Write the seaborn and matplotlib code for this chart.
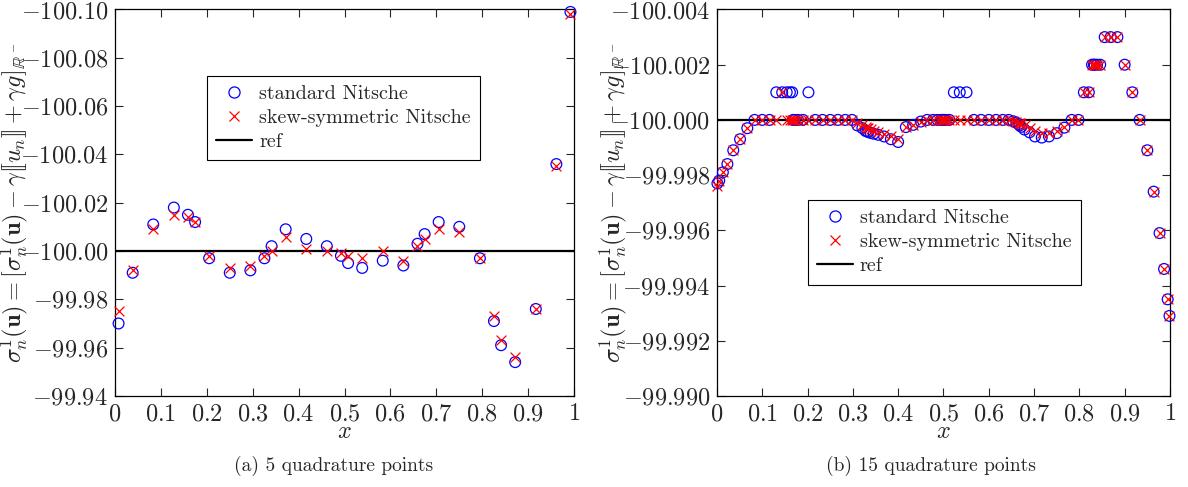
"""
Nitsche contact traction comparison at quadrature points.
Two panels: 5 and 15 quadrature points per element.
"""

import numpy as np
import matplotlib
matplotlib.use('Agg')
import matplotlib.pyplot as plt
from matplotlib.ticker import FixedLocator, FuncFormatter
from matplotlib.lines import Line2D
import seaborn as sns

# ---- data: 5 quadrature points ----
x5 = [0.0078, 0.0385, 0.0833, 0.1282, 0.1589,
      0.1745, 0.2051, 0.2500, 0.2949, 0.3255,
      0.3411, 0.3718, 0.4167, 0.4615, 0.4922,
      0.5078, 0.5385, 0.5833, 0.6282, 0.6589,
      0.6745, 0.7051, 0.7500, 0.7949, 0.8255,
      0.8411, 0.8718, 0.9167, 0.9615, 0.9922]
standard5 = [-99.970, -99.991, -100.011, -100.018, -100.015,
             -100.012, -99.997, -99.991, -99.992, -99.997,
             -100.002, -100.009, -100.005, -100.002, -99.998,
             -99.995, -99.993, -99.996, -99.994, -100.003,
             -100.007, -100.012, -100.010, -99.997, -99.971,
             -99.961, -99.954, -99.976, -100.036, -100.099]
skew5 = [-99.975, -99.992, -100.009, -100.015, -100.014,
         -100.012, -99.998, -99.993, -99.994, -99.998,
         -100.000, -100.006, -100.001, -100.000, -99.999,
         -99.998, -99.997, -100.000, -99.996, -100.002,
         -100.005, -100.009, -100.008, -99.997, -99.973,
         -99.963, -99.956, -99.976, -100.035, -100.098]

# ---- data: 15 quadrature points ----
x15 = [0.001, 0.005, 0.013, 0.023, 0.036, 0.051, 0.067, 0.083, 0.100, 0.116, 0.131, 0.144, 0.154, 0.161, 0.166,
       0.168, 0.172, 0.179, 0.190, 0.202, 0.217, 0.233, 0.250, 0.267, 0.283, 0.298, 0.310, 0.321, 0.328, 0.332,
       0.334, 0.339, 0.346, 0.356, 0.369, 0.384, 0.400, 0.417, 0.433, 0.450, 0.464, 0.477, 0.487, 0.495, 0.499,
       0.501, 0.505, 0.513, 0.523, 0.536, 0.551, 0.567, 0.583, 0.600, 0.616, 0.631, 0.644, 0.654, 0.661, 0.666,
       0.668, 0.672, 0.679, 0.690, 0.702, 0.717, 0.733, 0.750, 0.767, 0.783, 0.798, 0.810, 0.821, 0.828, 0.832,
       0.834, 0.839, 0.846, 0.856, 0.869, 0.884, 0.900, 0.917, 0.933, 0.950, 0.964, 0.977, 0.987, 0.995, 0.999]
standard15 = [
    -99.9977, -99.9978, -99.9981, -99.9984, -99.9989, -99.9993, -99.9997, -100.000, -100.000, -100.000,
    -100.001, -100.001, -100.001, -100.001, -100.001,
    -100.000, -100.000, -100.000, -100.000, -100.001, -100.000, -100.000, -100.000, -100.000, -100.000,
    -100.000, -99.9998, -99.9997, -99.9996, -99.99958,
    -99.99956, -99.99953, -99.9995, -99.99946, -99.9994, -99.9993, -99.9992, -99.99974, -99.99982, -99.99994,
    -100.000, -100.000, -100.000, -100.000, -100.000,
    -100.000, -100.000, -100.000, -100.001, -100.001, -100.001, -100.000, -100.000, -100.000, -100.000,
    -100.000, -100.000, -99.99995, -99.9999, -99.99985,
    -99.9998, -99.99975, -99.99965, -99.99955, -99.9994, -99.99936, -99.9994, -99.99952, -99.99972, -100.000,
    -100.000, -100.001, -100.001, -100.002, -100.002,
    -100.002, -100.002, -100.002, -100.003, -100.003, -100.003, -100.002, -100.001, -100.000, -99.9989,
    -99.9974, -99.9959, -99.9946, -99.9935, -99.9929]
skew15 = [
    -99.9976, -99.9978, -99.9981, -99.9984, -99.9989, -99.9993, -99.9997, -100.000, -100.000, -100.000,
    -100.000, -100.001, -100.000, -100.000, -100.000,
    -100.000, -100.000, -100.000, -100.000, -100.000, -100.000, -100.000, -100.000, -100.000, -100.000,
    -100.000, -99.99988, -99.9998, -99.99975, -99.99972,
    -99.9997, -99.99966, -99.9996, -99.99955, -99.9995, -99.9994, -99.9993, -99.99974, -99.99982, -99.99994,
    -100.000, -100.000, -100.000, -100.000, -100.000,
    -100.000, -100.000, -100.000, -100.000, -100.000, -100.000, -100.000, -100.000, -100.000, -100.000,
    -100.000, -100.000, -99.99997, -99.99993, -99.9999,
    -99.99988, -99.99985, -99.9998, -99.9997, -99.9996, -99.99953, -99.99952, -99.9996, -99.99975, -100.000,
    -100.000, -100.001, -100.001, -100.002, -100.002,
    -100.002, -100.002, -100.002, -100.003, -100.003, -100.003, -100.002, -100.001, -100.000, -99.9989,
    -99.9974, -99.9959, -99.9946, -99.9935, -99.9929]

ref_value = -100.0

# axis ticks and labels
x_ticks = [0, 0.1, 0.2, 0.3, 0.4, 0.5, 0.6, 0.7, 0.8, 0.9, 1]
y_ticks_5 = [-100.10, -100.08, -100.06, -100.04, -100.02, -100.00, -99.98, -99.96, -99.94]
y_ticks_15 = [-100.004, -100.002, -100.000, -99.998, -99.996, -99.994, -99.992, -99.990]
captions = ['(a) 5 quadrature points', '(b) 15 quadrature points']
ylabel = (r'$\sigma_n^1(\mathbf{u}) = [\sigma_n^1(\mathbf{u}) - \gamma[\![u_n]\!] '
          r'+ \gamma g]_{\mathbb{R}^-}$')

sns.set_style('ticks')
plt.rcParams['font.family'] = ['serif']
plt.rcParams['font.serif'] = ['cmr10', 'DejaVu Serif']
plt.rcParams['mathtext.fontset'] = 'cm'
plt.rcParams['axes.formatter.use_mathtext'] = True
plt.rcParams['axes.unicode_minus'] = True

MATH_FS = 17.5
TEXT_FS = 14.5


def x_fmt(v, pos):
    if abs(v) < 1e-9:
        return r'$0$'
    if abs(v - 1) < 1e-9:
        return r'$1$'
    return r'$%.1f$' % v


def draw_panel(ax, x, std, skew, yticks, ndec, legend_box, caption, cap_x, ylab_x):
    ax.axhline(ref_value, color='black', lw=1.6, zorder=1)
    sns.scatterplot(x=x, y=std, ax=ax, marker='o', s=60, facecolor='none',
                    edgecolor='blue', linewidth=0.9, zorder=3, clip_on=False)
    sns.scatterplot(x=x, y=skew, ax=ax, marker='x', s=50, color='red',
                    linewidth=0.9, zorder=4, clip_on=False)

    ax.set_xlim(0, 1)
    ax.set_ylim(yticks[-1], yticks[0])  # reversed y direction
    ax.xaxis.set_major_locator(FixedLocator(x_ticks))
    ax.xaxis.set_major_formatter(FuncFormatter(x_fmt))
    ax.yaxis.set_major_locator(FixedLocator(yticks))
    ax.yaxis.set_major_formatter(FuncFormatter(lambda v, p: r'$%.*f$' % (ndec, v)))
    ax.tick_params(direction='in', top=True, right=True, length=6, width=0.8,
                   labelsize=MATH_FS, pad=5)
    for sp in ax.spines.values():
        sp.set_linewidth(0.9)
        sp.set_color('black')

    ax.set_xlabel(r'$x$', fontsize=MATH_FS, labelpad=-3)
    ax.set_ylabel(ylabel, fontsize=MATH_FS)
    ax.yaxis.set_label_coords(ylab_x, 0.5)

    handles = [
        Line2D([], [], ls='none', marker='o', markersize=8, markerfacecolor='none',
               markeredgecolor='blue', markeredgewidth=0.9),
        Line2D([], [], ls='none', marker='x', markersize=7, color='red',
               markeredgewidth=0.9),
        Line2D([], [], color='black', lw=1.6),
    ]
    labels = ['standard Nitsche', 'skew-symmetric Nitsche', 'ref']
    leg = ax.legend(handles, labels, loc='upper left', bbox_to_anchor=legend_box,
                    borderaxespad=0, fontsize=TEXT_FS, frameon=True, fancybox=False,
                    framealpha=1, edgecolor='black', handlelength=1.8, borderpad=0.45,
                    labelspacing=0.3, handletextpad=0.35)
    leg.get_frame().set_linewidth(0.8)

    ax.text(cap_x, -0.181, caption, transform=ax.transAxes, ha='center', va='center',
            fontsize=TEXT_FS - 0.5)


fig = plt.figure(figsize=(11.88, 4.87), dpi=100)
ax1 = fig.add_axes([0.0968, 0.187, 0.3864, 0.7935])
ax2 = fig.add_axes([0.6035, 0.187, 0.3813, 0.7935])

draw_panel(ax1, x5, standard5, skew5, y_ticks_5, 2, (0.2, 0.828), captions[0], 0.477, -0.186)
draw_panel(ax2, x15, standard15, skew15, y_ticks_15, 3, (0.2, 0.507), captions[1], 0.472, -0.195)

fig.savefig('out.png', dpi=100)
plt.close(fig)
print("Saved out.png")
